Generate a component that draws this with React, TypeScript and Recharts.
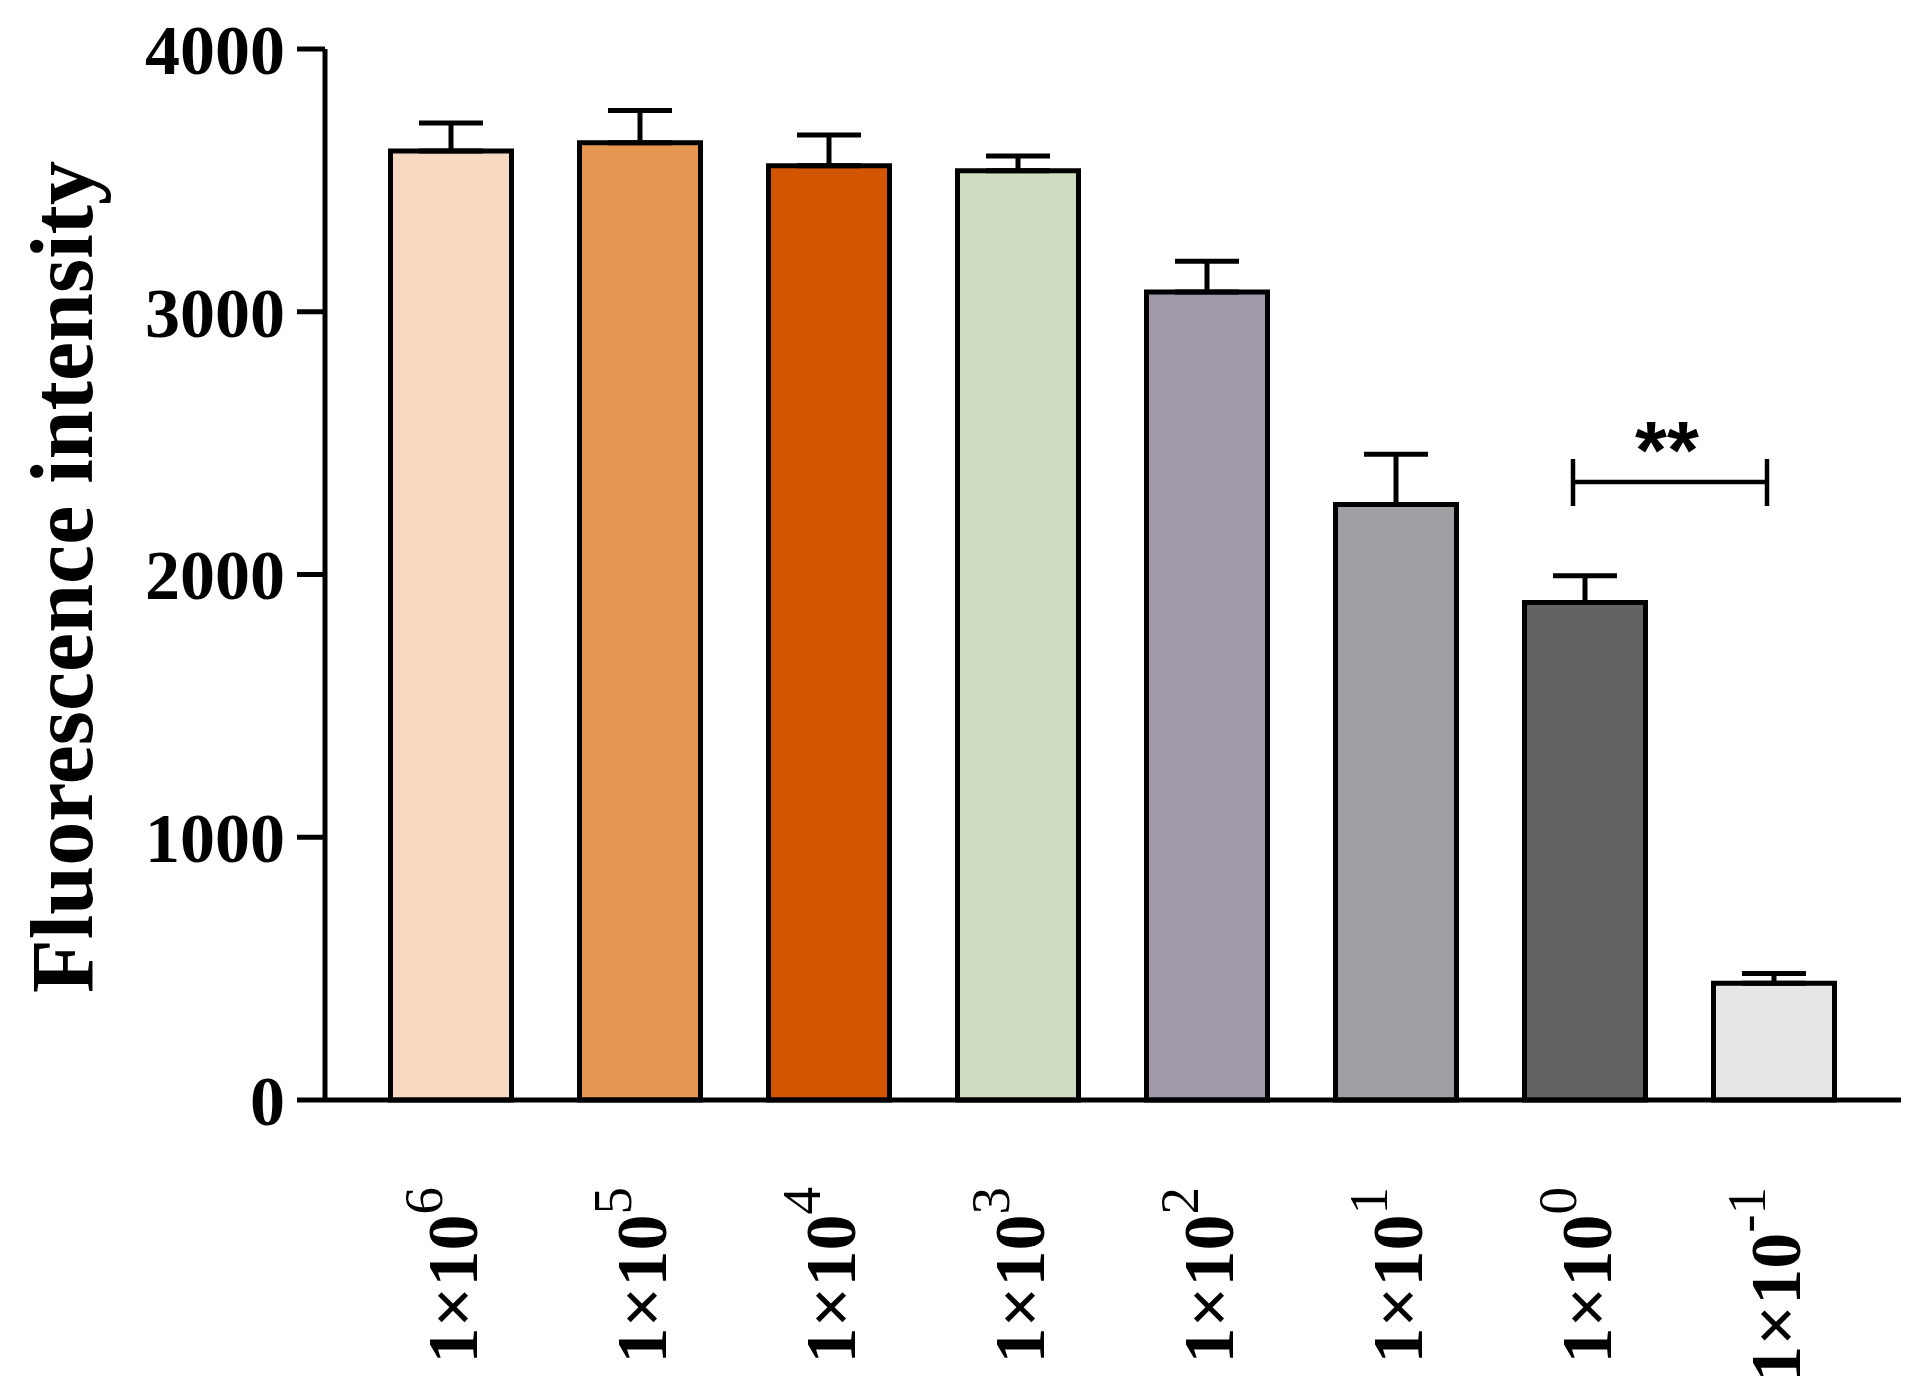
import React from 'react';
import { BarChart, Bar, XAxis, YAxis, Cell, ErrorBar, ReferenceLine } from 'recharts';

const exponents = ['6', '5', '4', '3', '2', '1', '0', '-1'];
const means = [3612, 3643, 3556, 3537, 3075, 2266, 1893, 444];
const errors = [106, 123, 117, 56, 117, 192, 102, 37];
const colors = ['#F7D9C2', '#E69752', '#D45500', '#CFDEC3', '#A29AAB', '#A0A0A4', '#636363', '#E6E6E6'];
const yTicks = [0, 1000, 2000, 3000, 4000];
const sigPair = ['0', '-1'];
const sigLevel = 2352;
const sigText = '**';
const yTitle = 'Fluorescence intensity';

const data = exponents.map((e, i) => ({ name: e, value: means[i], err: [0, errors[i]] }));

const SERIF = '"Liberation Serif", "Times New Roman", serif';

const XTick = (props: any) => {
  const { x, payload } = props;
  return (
    <g transform={`translate(${x + 26},${1179})`}>
      <text transform="rotate(-90)" textAnchor="end" fontFamily={SERIF} fill="#000">
        <tspan fontSize={72} fontWeight="bold">1×10</tspan>
        <tspan fontSize={55} fontWeight="normal" dy={-35}>{payload.value}</tspan>
      </text>
    </g>
  );
};

const YTitle = () => (
  <text
    x={84}
    y={569}
    transform="rotate(-90, 84, 569)"
    textAnchor="middle"
    fontFamily={SERIF}
    fontWeight="bold"
    fontSize={88}
    fill="#000"
  >
    {yTitle}
  </text>
);

const Bracket = (props: any) => {
  const { x1, x2, y1 } = props;
  const l = x1 - 12;
  const r = x2 - 7;
  return (
    <g>
      <line x1={l} y1={y1} x2={r} y2={y1} stroke="#000" strokeWidth={4.5} />
      <line x1={l} y1={y1 - 23} x2={l} y2={y1 + 24} stroke="#000" strokeWidth={4.5} />
      <line x1={r} y1={y1 - 23} x2={r} y2={y1 + 24} stroke="#000" strokeWidth={4.5} />
      <text
        x={(l + r) / 2 - 3}
        y={y1 - 4}
        textAnchor="middle"
        fontFamily='"Liberation Sans", Arial, sans-serif'
        fontWeight="bold"
        fontSize={82}
        fill="#000"
      >
        {sigText}
      </text>
    </g>
  );
};

export default function App() {
  return (
    <BarChart
      width={1910}
      height={1390}
      data={data}
      margin={{ top: 41, right: 17, bottom: 0, left: 0 }}
    >
      <XAxis
        dataKey="name"
        height={298}
        interval={0}
        padding={{ left: 31.5, right: 32.5 }}
        tickLine={false}
        axisLine={{ stroke: '#000', strokeWidth: 5 }}
        tick={<XTick />}
      />
      <YAxis
        domain={[0, 4000]}
        ticks={yTicks}
        width={317}
        tickSize={28}
        tickMargin={12}
        tickLine={{ stroke: '#000', strokeWidth: 5 }}
        axisLine={{ stroke: '#000', strokeWidth: 5 }}
        tick={{ fontFamily: SERIF, fontWeight: 'bold', fontSize: 70, fill: '#000' }}
        label={{ content: () => <YTitle /> }}
      />
      <Bar dataKey="value" barSize={121} stroke="#000" strokeWidth={5} isAnimationActive={false}>
        {data.map((d, i) => (
          <Cell key={d.name} fill={colors[i]} />
        ))}
        <ErrorBar dataKey="err" width={32} stroke="#000" strokeWidth={5} direction="y" isAnimationActive={false} />
      </Bar>
      <ReferenceLine
        segment={[{ x: sigPair[0], y: sigLevel }, { x: sigPair[1], y: sigLevel }]}
        shape={(p: any) => <Bracket {...p} />}
        ifOverflow="visible"
      />
    </BarChart>
  );
}
